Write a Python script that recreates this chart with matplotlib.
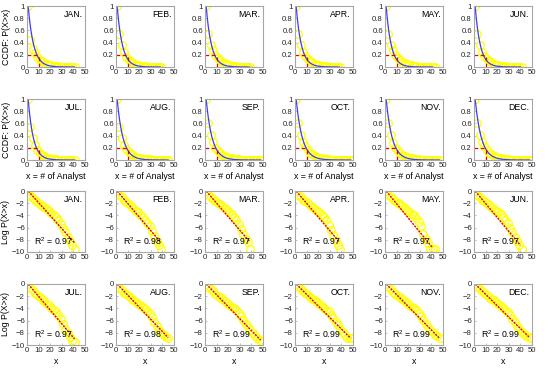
import numpy as np
import matplotlib
matplotlib.use("Agg")
import matplotlib.pyplot as plt

plt.rcParams['font.family'] = ['Liberation Sans', 'DejaVu Sans']
plt.rcParams['font.size'] = 6

months = ["JAN.", "FEB.", "MAR.", "APR.", "MAY.", "JUN.",
          "JUL.", "AUG.", "SEP.", "OCT.", "NOV.", "DEC."]

# x positions of the sampled points (shared, each month uses the first n)
x_grid = [1, 3, 5, 7, 9, 11, 13, 15, 17, 19, 21, 23, 25,
          27, 29, 31, 33, 35, 37, 39, 41, 43, 45, 47, 49]

# ln P(X>x)
log_jan = [0, -0.8, -1.2, -1.5, -1.8, -2.1, -2.4, -2.7, -3.0, -3.3, -3.6, -3.9, -4.3,
           -4.8, -5.4, -6.1, -6.8, -7.5, -8.2, -8.8, -9.5]
log_feb = [0, -0.6, -1.0, -1.4, -1.8, -2.1, -2.5, -2.8, -3.2, -3.5, -3.9, -4.3, -4.7,
           -5.2, -5.8, -6.6, -7.4, -8.2, -8.9, -9.5]
log_mar = [0, -0.6, -1.0, -1.3, -1.6, -1.9, -2.2, -2.5, -2.8, -3.1, -3.4, -3.8, -4.2,
           -4.7, -5.4, -6.2, -7.0, -7.8, -8.4, -9.5]
log_apr = [0, -0.6, -1.0, -1.4, -1.7, -2.0, -2.3, -2.6, -2.9, -3.2, -3.5, -3.9, -4.3,
           -4.8, -5.5, -6.4, -7.2, -8.0, -8.8, -9.5]
log_may = [0, -0.6, -1.0, -1.3, -1.6, -1.9, -2.2, -2.5, -2.8, -3.1, -3.4, -3.7, -4.0,
           -4.5, -5.1, -5.8, -7.0, -7.8, -8.6, -9.5, -9.5, -9.5]
log_jun = [0, -0.6, -1.0, -1.4, -1.7, -2.0, -2.3, -2.6, -2.9, -3.2, -3.5, -3.8, -4.2,
           -4.7, -5.3, -6.0, -6.8, -7.5, -8.2, -8.9, -9.5]
log_jul = [0, -0.6, -1.0, -1.4, -1.8, -2.1, -2.5, -2.8, -3.2, -3.5, -3.9, -4.2, -4.6,
           -5.1, -5.8, -6.6, -7.3, -8.0, -8.7, -9.4, -9.5]
log_aug = [0, -0.6, -1.0, -1.4, -1.7, -2.0, -2.3, -2.6, -2.9, -3.2, -3.5, -3.8, -4.1,
           -4.4, -4.8, -5.4, -6.2, -6.9, -7.5, -8.0, -8.4, -8.7, -8.9]
log_sep = [0, -0.5, -0.9, -1.2, -1.6, -1.9, -2.2, -2.5, -2.8, -3.1, -3.4, -3.7, -4.0,
           -4.3, -4.7, -5.3, -5.9, -6.5, -7.0, -7.5, -8.1, -8.5, -8.9, -9.2, -9.5]
log_oct = [0, -0.5, -0.9, -1.2, -1.5, -1.8, -2.1, -2.4, -2.7, -3.0, -3.3, -3.6, -3.9,
           -4.2, -4.5, -5.0, -5.6, -6.2, -6.8, -7.3, -7.8, -8.3, -8.8, -8.8, -8.8]
log_nov = [0, -0.5, -0.9, -1.3, -1.6, -1.9, -2.2, -2.5, -2.8, -3.1, -3.4, -3.7, -4.0,
           -4.3, -4.7, -5.3, -5.9, -6.5, -7.0, -7.5, -7.9, -8.3, -8.6, -8.8]
log_dec = [0, -0.5, -0.9, -1.2, -1.5, -1.8, -2.1, -2.4, -2.7, -3.0, -3.3, -3.6, -3.9,
           -4.2, -4.6, -5.1, -5.7, -6.3, -6.9, -7.4, -7.8, -8.2, -8.5, -8.7, -8.8]
log_data = [log_jan, log_feb, log_mar, log_apr, log_may, log_jun,
            log_jul, log_aug, log_sep, log_oct, log_nov, log_dec]

# fitted line end point (starts at x=1, y=0)
fit_end_x = [41, 38, 38, 38, 41, 40, 41, 45, 48, 48, 47, 48]
fit_end_y = [-8.5, -8.3, -8.2, -8.3, -9.3, -8.9, -9.0, -8.8, -9.2, -8.9, -8.9, -8.8]
r2 = [0.97, 0.98, 0.97, 0.97, 0.97, 0.97, 0.97, 0.98, 0.99, 0.99, 0.99, 0.99]

W, H = 550, 372
lefts = [27, 116, 205, 295, 385, 474]
tops = [6, 99, 191, 284]
aw, ah = 58, 61

fig = plt.figure(figsize=(W / 100, H / 100), dpi=100)
grey = '#a6a6a6'
yellow = '#ffff00'


def style(ax):
    for s in ax.spines.values():
        s.set_color(grey)
        s.set_linewidth(0.8)
    ax.tick_params(direction='in', length=1.5, width=0.5, color=grey,
                   labelcolor='#262626', pad=1.5, labelsize=5.6)
    ax.set_xlim(0, 50)
    ax.set_xticks([0, 10, 20, 30, 40, 50])


for m in range(12):
    col = m % 6
    half = m // 6
    xs = np.array(x_grid[:len(log_data[m])])
    ys = np.array(log_data[m])
    slope = fit_end_y[m] / (fit_end_x[m] - 1)
    xf = np.linspace(1, fit_end_x[m], 100)

    # CCDF panel
    ax = fig.add_axes([lefts[col] / W, 1 - (tops[half] + ah) / H, aw / W, ah / H])
    style(ax)
    ax.plot(xs, np.exp(ys), 'o', mfc='none', mec=yellow, ms=5.5, mew=0.9)
    ax.plot(xf, np.exp(slope * (xf - 1)), color='#3b3bff', lw=0.9)
    ax.plot([0, 10], [0.2, 0.2], ls=(0, (3, 2)), color='#e00000', lw=0.9)
    ax.plot([10, 10], [0, 0.2], ls=(0, (3, 2)), color='#e00000', lw=0.9)
    ax.set_ylim(0, 1)
    ax.set_yticks([0, 0.2, 0.4, 0.6, 0.8, 1])
    ax.set_yticklabels(['0', '0.2', '0.4', '0.6', '0.8', '1'])
    ax.text(0.96, 0.86, months[m], transform=ax.transAxes, ha='right', va='center',
            fontsize=6.3)
    if col == 0:
        ax.set_ylabel('CCDF: P(X>x)', labelpad=2, fontsize=6.3)
    if half == 1:
        ax.set_xlabel('x = # of Analyst', labelpad=2, fontsize=6.3)

    # log panel
    ax = fig.add_axes([lefts[col] / W, 1 - (tops[half + 2] + ah) / H, aw / W, ah / H])
    style(ax)
    ax.plot(xs, ys, 'o', mfc='none', mec=yellow, ms=5.5, mew=0.9)
    ax.plot(xf, slope * (xf - 1), ls=(0, (1.5, 0.8)), color='#e00000', lw=1.0)
    ax.set_ylim(-10, 0)
    ax.set_yticks([-10, -8, -6, -4, -2, 0])
    ax.text(0.96, 0.86, months[m], transform=ax.transAxes, ha='right', va='center',
            fontsize=6.3)
    ax.text(0.46, 0.18, '$\\mathregular{R^2}$ = %.2f' % r2[m], transform=ax.transAxes,
            ha='center', va='center', fontsize=6.3)
    if col == 0:
        ax.set_ylabel('Log P(X>x)', labelpad=1, fontsize=6.3)
    if half == 1:
        ax.set_xlabel('x', labelpad=2, fontsize=6.3)

fig.savefig('out.png', dpi=100)
